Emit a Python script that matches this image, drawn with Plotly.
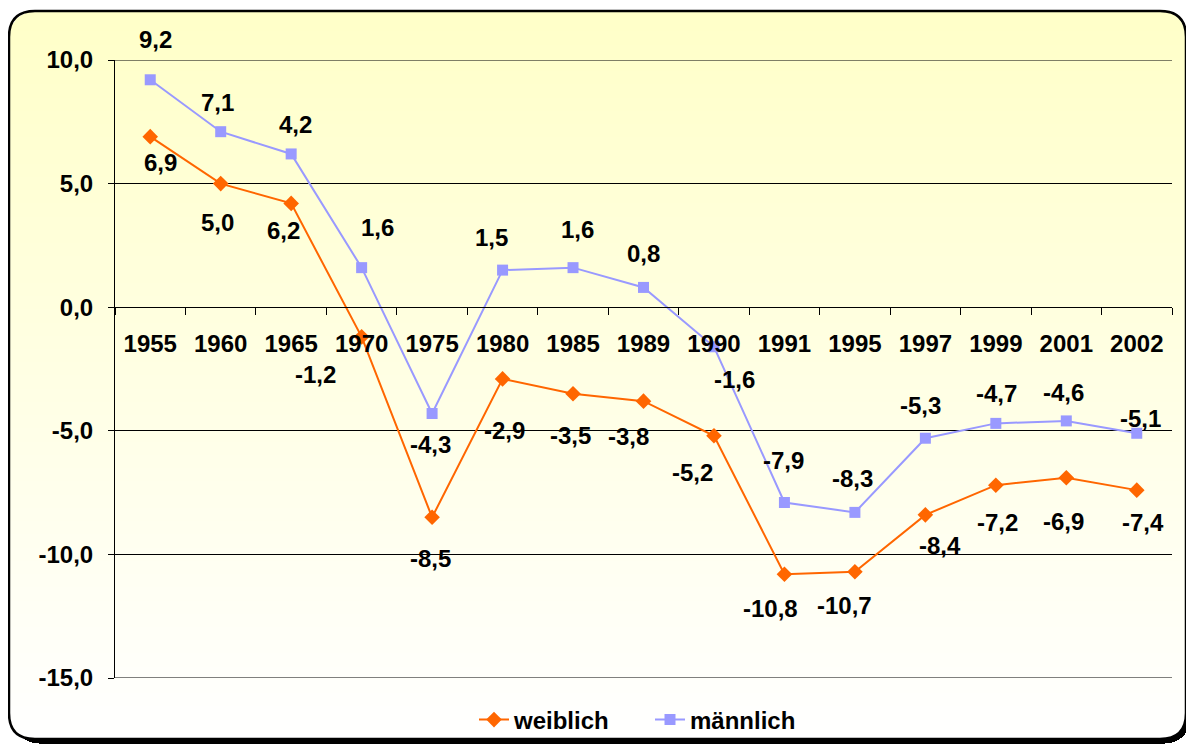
import math, zlib, struct, base64
import plotly.graph_objects as go

# ---------------- data ----------------
years = ["1955", "1960", "1965", "1970", "1975", "1980", "1985", "1989", "1990",
         "1991", "1995", "1997", "1999", "2001", "2002"]
weiblich = [6.9, 5.0, 4.2, -1.2, -8.5, -2.9, -3.5, -3.8, -5.2, -10.8, -10.7, -8.4, -7.2, -6.9, -7.4]
maennlich = [9.2, 7.1, 6.2, 1.6, -4.3, 1.5, 1.6, 0.8, -1.6, -7.9, -8.3, -5.3, -4.7, -4.6, -5.1]
# data labels as printed in the chart
weiblich_labels = ["6,9", "5,0", "6,2", "-1,2", "-8,5", "-2,9", "-3,5", "-3,8", "-5,2",
                   "-10,8", "-10,7", "-8,4", "-7,2", "-6,9", "-7,4"]
maennlich_labels = ["9,2", "7,1", "4,2", "1,6", "-4,3", "1,5", "1,6", "0,8", "-1,6",
                    "-7,9", "-8,3", "-5,3", "-4,7", "-4,6", "-5,1"]
y_ticks = [-15, -10, -5, 0, 5, 10]
y_ticktext = ["-15,0", "-10,0", "-5,0", "0,0", "5,0", "10,0"]

# label offsets (pixels, x right / y down) -- styling only
w_off = [(10, 26), (-3, 39), (-8, 27), (-46, 38), (-2, 41), (2, 52), (-3, 42), (-15, 35),
         (-21, 37), (-14, 34), (-10, 34), (15, 31), (2, 37), (-3, 44), (6, 32)]
m_off = [(5, -40), (-3, -29), (4, -29), (16, -40), (-2, 31), (-11, -33), (4, -38), (0, -34),
         (21, 33), (-1, -42), (-2, -34), (-5, -33), (1, -30), (-3, -28), (4, -15)]

OFF = 8                      # browser body margin
W, H = 1194 - OFF, 744 - OFF
ORANGE = "#FF6600"
LAV = "#9999FF"
FONT = "Liberation Sans"
FS = 24

# ---------------- background image (rounded box with gradient + shadow) ----------------
bx0, by0, bx1, by1, R = 9 - OFF, 11 - OFF, 1186 - OFF, 739 - OFF, 26
SH = 4

def span(y, x0, y0, x1, y1, r):
    if y < y0 or y > y1:
        return None
    if y < y0 + r:
        d = (y0 + r) - y
    elif y > y1 - r:
        d = y - (y1 - r)
    else:
        d = 0
    dx = r - math.sqrt(max(r * r - d * d, 0)) if d else 0
    return int(round(x0 + dx)), int(round(x1 - dx))

rows = []
top = (255, 255, 200)
bot = (255, 255, 255)
for y in range(H):
    row = bytearray(W * 4)
    s = span(y, bx0 + SH, by0 + SH, bx1 + SH, by1 + SH, R)
    if s:
        a, b = max(s[0], 0), min(s[1], W - 1)
        row[a * 4:(b + 1) * 4] = bytes((0, 0, 0, 255)) * (b - a + 1)
    s = span(y, bx0, by0, bx1, by1, R)
    if s:
        t = (y - by0) / (by1 - by0)
        c = tuple(int(round(top[i] + (bot[i] - top[i]) * t)) for i in range(3)) + (255,)
        a, b = max(s[0], 0), min(s[1], W - 1)
        row[a * 4:(b + 1) * 4] = bytes(c) * (b - a + 1)
    rows.append(b"\x00" + bytes(row))

def chunk(tag, data):
    return struct.pack(">I", len(data)) + tag + data + struct.pack(">I", zlib.crc32(tag + data) & 0xffffffff)

png = (b"\x89PNG\r\n\x1a\n" + chunk(b"IHDR", struct.pack(">IIBBBBB", W, H, 8, 6, 0, 0, 0))
       + chunk(b"IDAT", zlib.compress(b"".join(rows), 9)) + chunk(b"IEND", b""))
img_src = "data:image/png;base64," + base64.b64encode(png).decode()

def px(x):          # reference-screen pixel -> paper
    return (x - OFF) / W

def py(y):
    return 1 - (y - OFF) / H

def fx(x):          # figure pixel -> paper
    return x / W

def fy(y):
    return 1 - y / H

def rpath(x0, y0, x1, y1, r):
    pts = [
        f"M {fx(x0 + r)},{fy(y0)}", f"L {fx(x1 - r)},{fy(y0)}",
        f"Q {fx(x1)},{fy(y0)} {fx(x1)},{fy(y0 + r)}", f"L {fx(x1)},{fy(y1 - r)}",
        f"Q {fx(x1)},{fy(y1)} {fx(x1 - r)},{fy(y1)}", f"L {fx(x0 + r)},{fy(y1)}",
        f"Q {fx(x0)},{fy(y1)} {fx(x0)},{fy(y1 - r)}", f"L {fx(x0)},{fy(y0 + r)}",
        f"Q {fx(x0)},{fy(y0)} {fx(x0 + r)},{fy(y0)}", "Z",
    ]
    return " ".join(pts)

# ---------------- figure ----------------
fig = go.Figure()
fig.add_trace(go.Scatter(
    x=years, y=weiblich, name="weiblich", mode="lines+markers",
    line=dict(color=ORANGE, width=2),
    marker=dict(symbol="diamond", size=12, color=ORANGE),
))
fig.add_trace(go.Scatter(
    x=years, y=maennlich, name="männlich", mode="lines+markers",
    line=dict(color=LAV, width=2),
    marker=dict(symbol="square", size=11, color=LAV),
))

annotations = []
for series, labels, offs in ((weiblich, weiblich_labels, w_off), (maennlich, maennlich_labels, m_off)):
    for i, (v, lab, (dx, dy)) in enumerate(zip(series, labels, offs)):
        annotations.append(dict(
            x=i, y=v, xref="x", yref="y", text=lab, showarrow=False, xshift=dx, yshift=-dy,
            font=dict(family=FONT, size=FS, color="black", weight="bold"),
        ))

plot_l, plot_r, plot_t, plot_b = 115, 1172, 60, 678
zero_y = plot_t + (plot_b - plot_t) * 10 / 25

shapes = [dict(type="path", path=rpath(bx0, by0, bx1, by1, R), xref="paper", yref="paper",
               line=dict(color="black", width=2.5), fillcolor="rgba(0,0,0,0)", layer="above")]
for yv in (y_ticks[0], y_ticks[-1]):
    shapes.append(dict(type="line", xref="x domain", yref="y", x0=0, x1=1, y0=yv, y1=yv,
                       line=dict(color="black", width=1), layer="below"))

fig.update_layout(
    width=W, height=H,
    margin=dict(l=0, r=0, t=0, b=0, autoexpand=False),
    paper_bgcolor="white",
    plot_bgcolor="rgba(0,0,0,0)",
    separators=",.",
    font=dict(family=FONT, size=FS, color="black", weight="bold"),
    images=[dict(source=img_src, xref="paper", yref="paper", x=0, y=1, sizex=1, sizey=1,
                 xanchor="left", yanchor="top", sizing="stretch", layer="below")],
    shapes=shapes,
    annotations=annotations,
    showlegend=True,
    legend=dict(orientation="h", x=px(474), xanchor="left", y=py(720), yanchor="middle",
                bgcolor="rgba(0,0,0,0)", font=dict(family=FONT, size=FS, weight="bold"),
                entrywidth=131, tracegroupgap=0),
    xaxis=dict(
        type="category", range=[-0.5, 14.5], domain=[px(plot_l), px(plot_r)],
        anchor="free", position=py(zero_y), automargin=False,
        showline=True, linecolor="black", linewidth=1,
        ticks="outside", tickson="boundaries", ticklen=7, tickcolor="black",
        showgrid=False, zeroline=False, ticklabelstandoff=15,
        tickfont=dict(family=FONT, size=FS, weight="bold"),
    ),
    yaxis=dict(
        range=[-15, 10], tickvals=y_ticks, ticktext=y_ticktext, domain=[py(plot_b), py(plot_t)],
        automargin=False,
        showline=True, linecolor="black", linewidth=1,
        ticks="outside", ticklen=6, tickcolor="black",
        showgrid=True, gridcolor="black", gridwidth=1, zeroline=False,
        ticklabelstandoff=10,
        tickfont=dict(family=FONT, size=FS, weight="bold"),
    ),
)

fig.write_html("out.html")
